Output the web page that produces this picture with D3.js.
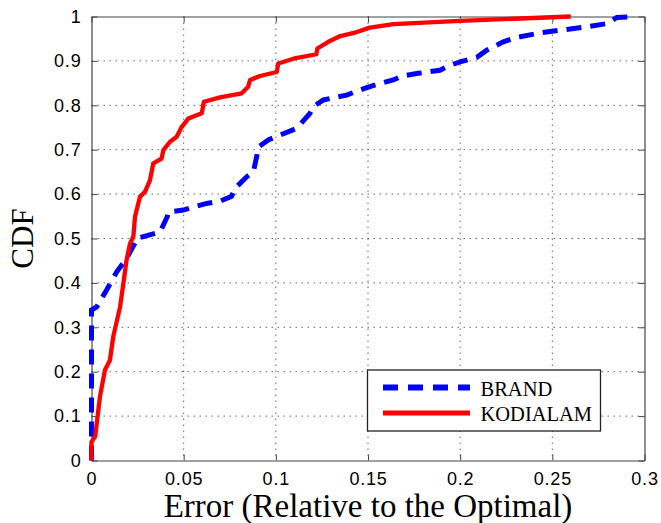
<!DOCTYPE html>
<html>
<head>
<meta charset="utf-8">
<script src="https://cdn.jsdelivr.net/npm/d3@7/dist/d3.min.js"></script>
<style>
  html, body { margin: 0; padding: 0; background: #fff; }
  svg { display: block; }
</style>
</head>
<body>
<svg id="chart" width="661" height="523"></svg>
<script>
// Empirical CDF of the error, as [error, cumulative fraction]
const brand = [
  [0, 0], [0, 0.339], [0.0028, 0.346], [0.0082, 0.384], [0.0137, 0.425],
  [0.019, 0.455], [0.0236, 0.49], [0.0245, 0.50], [0.0372, 0.515],
  [0.0411, 0.549], [0.0417, 0.56], [0.0498, 0.564], [0.0552, 0.571],
  [0.0625, 0.579], [0.0697, 0.584], [0.076, 0.595], [0.0779, 0.613],
  [0.0842, 0.639], [0.0878, 0.650], [0.0896, 0.684], [0.0905, 0.706],
  [0.0959, 0.722], [0.1023, 0.733], [0.1113, 0.748], [0.1185, 0.782],
  [0.1203, 0.797], [0.1258, 0.812], [0.1384, 0.823], [0.1493, 0.840],
  [0.1565, 0.849], [0.1637, 0.857], [0.1683, 0.866], [0.1773, 0.872],
  [0.189, 0.879], [0.1945, 0.890], [0.2, 0.898], [0.209, 0.908],
  [0.2144, 0.924], [0.2234, 0.943], [0.2307, 0.953], [0.2433, 0.963],
  [0.2542, 0.969], [0.2705, 0.978], [0.2795, 0.984], [0.285, 0.998],
  [0.295, 1.0]
];
const kodialam = [
  [0, 0], [0, 0.042], [0.002, 0.054], [0.0046, 0.144], [0.0073, 0.204],
  [0.010, 0.226], [0.0118, 0.279], [0.0155, 0.346], [0.0173, 0.399],
  [0.019, 0.451], [0.0209, 0.489], [0.0227, 0.504], [0.0236, 0.549],
  [0.0263, 0.594], [0.029, 0.605], [0.0317, 0.631], [0.0335, 0.669],
  [0.038, 0.680], [0.039, 0.699], [0.0426, 0.718], [0.0462, 0.729],
  [0.0489, 0.751], [0.0525, 0.770], [0.0598, 0.782], [0.061, 0.808],
  [0.0697, 0.818], [0.0815, 0.827], [0.085, 0.842], [0.086, 0.857],
  [0.0914, 0.866], [0.1005, 0.875], [0.1013, 0.894], [0.1095, 0.905],
  [0.122, 0.915], [0.1225, 0.928], [0.1285, 0.943], [0.135, 0.956],
  [0.144, 0.965], [0.151, 0.975], [0.1638, 0.983], [0.2, 0.990],
  [0.26, 1.0]
];
const xTicks = [0, 0.05, 0.1, 0.15, 0.2, 0.25, 0.3];
const yTicks = [0, 0.1, 0.2, 0.3, 0.4, 0.5, 0.6, 0.7, 0.8, 0.9, 1];
const seriesNames = ["BRAND", "KODIALAM"];

const svg = d3.select("#chart");
const plotL = 91.5, plotR = 644.5, plotT = 16.5, plotB = 460.5;

const x = d3.scaleLinear().domain([0, 0.3]).range([plotL, plotR]);
const y = d3.scaleLinear().domain([0, 1]).range([plotB, plotT]);

// dotted grid
const grid = svg.append("g")
  .attr("stroke", "#666").attr("stroke-width", 1)
  .attr("stroke-dasharray", "1.5,4.5");
grid.selectAll("line.v").data(xTicks.slice(1, -1)).join("line")
  .attr("class", "v")
  .attr("x1", d => x(d)).attr("x2", d => x(d))
  .attr("y1", plotT).attr("y2", plotB);
grid.selectAll("line.h").data(yTicks.slice(1, -1)).join("line")
  .attr("class", "h")
  .attr("x1", plotL).attr("x2", plotR)
  .attr("y1", d => y(d)).attr("y2", d => y(d));

// axes with inward ticks on all four sides
const tickFont = "'Liberation Sans', Arial, sans-serif";
const fmt = d => String(d);
const axB = svg.append("g").attr("transform", `translate(0,${plotB})`)
  .call(d3.axisBottom(x).tickValues(xTicks).tickFormat(fmt).tickSizeInner(-6).tickSizeOuter(0).tickPadding(12));
const axL = svg.append("g").attr("transform", `translate(${plotL},0)`)
  .call(d3.axisLeft(y).tickValues(yTicks).tickFormat(fmt).tickSizeInner(-6).tickSizeOuter(0).tickPadding(10));
const axT = svg.append("g").attr("transform", `translate(0,${plotT})`)
  .call(d3.axisTop(x).tickValues(xTicks).tickFormat("").tickSizeInner(-6).tickSizeOuter(0));
const axR = svg.append("g").attr("transform", `translate(${plotR},0)`)
  .call(d3.axisRight(y).tickValues(yTicks).tickFormat("").tickSizeInner(-6).tickSizeOuter(0));
[axB, axL, axT, axR].forEach(a => {
  a.select(".domain").attr("stroke", "#444").attr("stroke-width", 1.2);
  a.selectAll(".tick line").attr("stroke", "#444");
  a.selectAll("text").attr("font-family", tickFont).attr("font-size", 18)
    .attr("letter-spacing", 0.8).attr("fill", "#000");
});

// curves
const line = d3.line().x(d => x(d[0])).y(d => y(d[1]));
svg.append("path").datum(brand)
  .attr("d", line).attr("fill", "none")
  .attr("stroke", "#0000ff").attr("stroke-width", 5)
  .attr("stroke-dasharray", "15,9");
svg.append("path").datum(kodialam)
  .attr("d", line).attr("fill", "none")
  .attr("stroke", "#ff0000").attr("stroke-width", 4.3)
  .attr("stroke-linejoin", "round");

// axis titles
const serif = "'Liberation Serif', 'Times New Roman', serif";
svg.append("text")
  .attr("x", (plotL + plotR) / 2).attr("y", 517)
  .attr("text-anchor", "middle")
  .attr("font-family", serif).attr("font-size", 33)
  .text("Error (Relative to the Optimal)");
svg.append("text")
  .attr("transform", `translate(33,${(plotT + plotB) / 2}) rotate(-90)`)
  .attr("text-anchor", "middle")
  .attr("font-family", serif).attr("font-size", 31)
  .text("CDF");

// legend
const lg = svg.append("g");
lg.append("rect")
  .attr("x", 367.5).attr("y", 370).attr("width", 233).attr("height", 61)
  .attr("fill", "#fff").attr("stroke", "#222").attr("stroke-width", 1.3);
const styles = [
  { color: "#0000ff", width: 6, dash: "15,10" },
  { color: "#ff0000", width: 5, dash: null }
];
seriesNames.forEach((name, i) => {
  const ly = 387.5 + i * 25.5;
  lg.append("line")
    .attr("x1", 383).attr("x2", 470).attr("y1", ly).attr("y2", ly)
    .attr("stroke", styles[i].color).attr("stroke-width", styles[i].width)
    .attr("stroke-dasharray", styles[i].dash);
  lg.append("text")
    .attr("x", 480.5).attr("y", ly + 8)
    .attr("font-family", serif).attr("font-size", 20.5)
    .text(name);
});
</script>
</body>
</html>
